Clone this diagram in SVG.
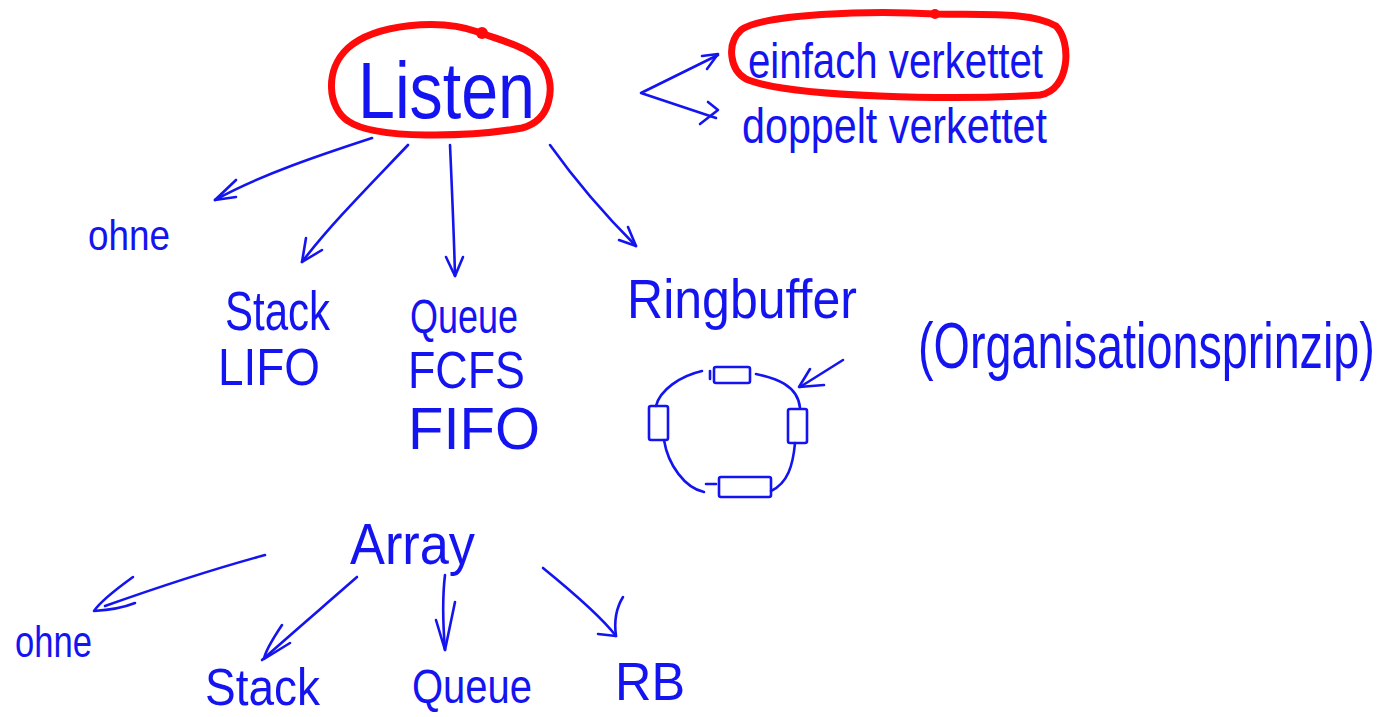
<svg xmlns="http://www.w3.org/2000/svg" width="1394" height="717" viewBox="0 0 1394 717">
<style>
.t{font-family:"Liberation Sans",Arial,sans-serif;fill:#1414f0;}
.b{fill:none;stroke:#1414f0;stroke-width:2.6;stroke-linecap:round;stroke-linejoin:round;}
.r{fill:none;stroke:#ff0a0a;stroke-width:7;stroke-linecap:round;stroke-linejoin:round;}
</style>
<rect width="1394" height="717" fill="#ffffff"/>
<g id="listen">
<path class="r" d="M478,32 C440,18 375,24 348,48 C324,70 328,108 348,121 C375,140 470,137 522,128 C552,120 554,88 546,70 C536,48 505,42 478,32 Z"/>
<circle cx="482" cy="33" r="6" fill="#ff0a0a"/>
<text class="t" x="358" y="118" font-size="80" textLength="177" lengthAdjust="spacingAndGlyphs">Listen</text>
</g>
<g id="einfach">
<path class="r" d="M935,14 C870,10 762,14 741,30 C726,44 730,70 746,79 C790,98 960,100 1040,95 C1070,90 1072,42 1056,26 C1032,12 990,15 935,14 Z"/>
<circle cx="935" cy="14" r="5" fill="#ff0a0a"/>
<text class="t" x="748" y="78" font-size="50" textLength="295" lengthAdjust="spacingAndGlyphs">einfach verkettet</text>
</g>
<g id="doppelt">
<text class="t" x="742" y="143" font-size="50" textLength="305" lengthAdjust="spacingAndGlyphs">doppelt verkettet</text>
</g>
<g id="ohne1"><text class="t" x="88" y="250" font-size="42" textLength="82" lengthAdjust="spacingAndGlyphs">ohne</text></g>
<g id="stack1">
<text class="t" x="225" y="330" font-size="56" textLength="105" lengthAdjust="spacingAndGlyphs">Stack</text>
<text class="t" x="218" y="385" font-size="52" textLength="102" lengthAdjust="spacingAndGlyphs">LIFO</text>
</g>
<g id="queue1">
<text class="t" x="410" y="333" font-size="48" textLength="108" lengthAdjust="spacingAndGlyphs">Queue</text>
<text class="t" x="408" y="388" font-size="52" textLength="117" lengthAdjust="spacingAndGlyphs">FCFS</text>
<text class="t" x="408" y="449" font-size="60" textLength="132" lengthAdjust="spacingAndGlyphs">FIFO</text>
</g>
<g id="ringbuffer">
<text class="t" x="627" y="318" font-size="56" textLength="230" lengthAdjust="spacingAndGlyphs">Ringbuffer</text>
<rect class="b" x="714" y="367" width="36" height="16" rx="2"/>
<path class="b" d="M710,371 L710,379"/>
<rect class="b" x="649" y="406" width="19" height="34" rx="2"/>
<rect class="b" x="788" y="409" width="19" height="34" rx="2"/>
<rect class="b" x="719" y="477" width="52" height="20" rx="2"/>
<path class="b" d="M702,371 C680,376 660,390 656,406"/>
<path class="b" d="M756,374 C775,378 798,385 800,408"/>
<path class="b" d="M664,440 C668,465 685,488 704,492"/>
<path class="b" d="M706,484 L716,484"/>
<path class="b" d="M771,491 C788,483 793,465 795,443"/>
</g>
<g id="organisationsprinzip">
<text class="t" transform="translate(918,368) scale(0.73,1)" x="0" y="0" font-size="64">(Organisationsprinzip)</text>
</g>
<g id="array"><text class="t" x="350" y="564" font-size="58" textLength="125" lengthAdjust="spacingAndGlyphs">Array</text></g>
<g id="ohne2"><text class="t" x="15" y="657" font-size="44" textLength="77" lengthAdjust="spacingAndGlyphs">ohne</text></g>
<g id="stack2"><text class="t" x="205" y="705" font-size="52" textLength="115" lengthAdjust="spacingAndGlyphs">Stack</text></g>
<g id="queue2"><text class="t" x="412" y="703" font-size="48" textLength="120" lengthAdjust="spacingAndGlyphs">Queue</text></g>
<g id="rb"><text class="t" x="615" y="700" font-size="54" textLength="70" lengthAdjust="spacingAndGlyphs">RB</text></g>
<g id="connectors">
<path class="b" d="M718,55 L641,93 L716,118"/>
<path class="b" d="M702,56 L718,54 L707,69"/>
<path class="b" d="M708,102 L718,110 L700,124"/>
<path class="b" d="M372,138 C320,155 260,175 215,200"/>
<path class="b" d="M236,180 L215,200 L236,197"/>
<path class="b" d="M408,145 C370,185 330,225 302,262"/>
<path class="b" d="M306,238 L302,262 L322,250"/>
<path class="b" d="M450,145 C452,190 454,235 455,276"/>
<path class="b" d="M446,257 L455,276 L463,257"/>
<path class="b" d="M550,145 C575,180 605,215 636,246"/>
<path class="b" d="M628,227 L636,246 L619,240"/>
<path class="b" d="M843,360 L800,387"/>
<path class="b" d="M810,369 L799,387 L824,385"/>
<path class="b" d="M265,555 C210,570 150,590 105,606"/>
<path class="b" d="M133,577 C115,590 100,602 94,611 C110,610 125,607 135,603"/>
<path class="b" d="M357,577 C325,605 290,635 262,660"/>
<path class="b" d="M282,625 C272,640 265,652 264,659 L290,643"/>
<path class="b" d="M445,575 C442,600 443,625 445,650"/>
<path class="b" d="M436,620 L445,650 L455,602"/>
<path class="b" d="M543,568 C570,590 600,615 616,636"/>
<path class="b" d="M623,597 C615,610 614,622 616,636 L598,634"/>
</g>
</svg>
